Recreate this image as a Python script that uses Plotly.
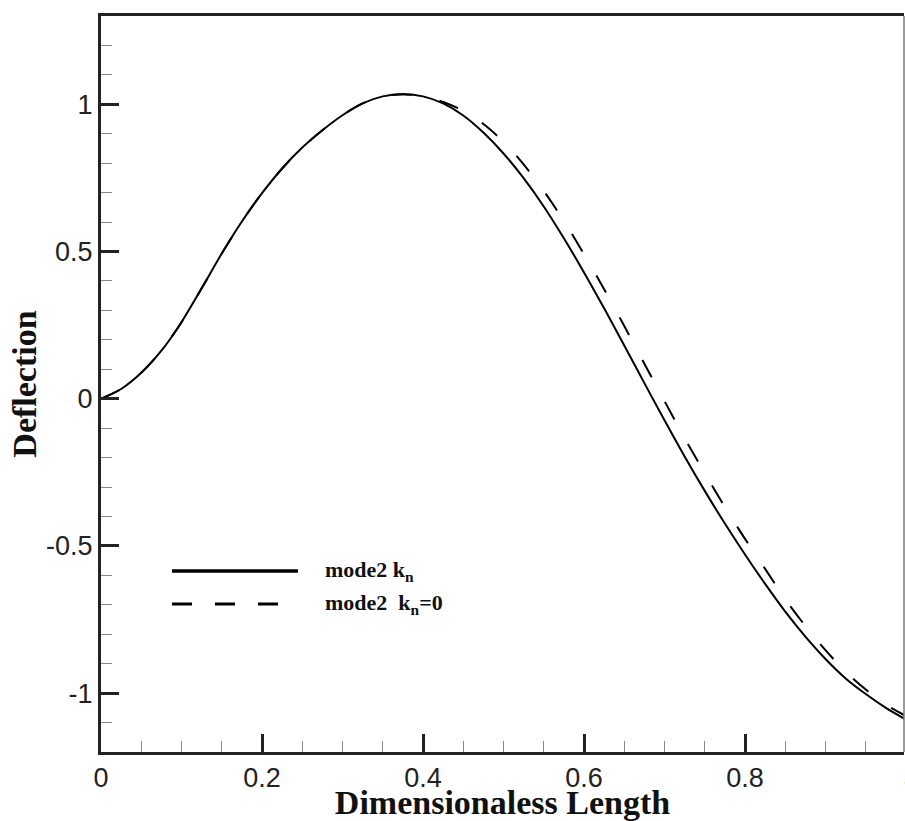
import plotly.graph_objects as go

# ---- data ----
x_vals = [0.0, 0.025, 0.05, 0.075, 0.10, 0.125, 0.15, 0.175, 0.20, 0.225,
          0.25, 0.275, 0.30, 0.325, 0.35, 0.375, 0.40, 0.425, 0.45, 0.475,
          0.50, 0.525, 0.55, 0.575, 0.60, 0.625, 0.65, 0.675, 0.70, 0.725,
          0.75, 0.775, 0.80, 0.825, 0.85, 0.875, 0.90, 0.925, 0.95, 0.975, 1.0]

mode2_kn = [0.000, 0.033, 0.088, 0.163, 0.260, 0.375, 0.493, 0.602, 0.698, 0.782,
            0.853, 0.912, 0.963, 1.003, 1.027, 1.034, 1.027, 1.003, 0.962, 0.904,
            0.833, 0.749, 0.653, 0.545, 0.429, 0.307, 0.181, 0.053, -0.073, -0.196,
            -0.313, -0.424, -0.529, -0.629, -0.723, -0.808, -0.884, -0.950, -1.003, -1.050, -1.090]

mode2_kn0 = [0.000, 0.033, 0.088, 0.163, 0.260, 0.375, 0.493, 0.602, 0.698, 0.782,
             0.853, 0.912, 0.963, 1.003, 1.027, 1.034, 1.028, 1.008, 0.978, 0.933,
             0.873, 0.796, 0.706, 0.604, 0.491, 0.372, 0.247, 0.119, -0.008, -0.134,
             -0.253, -0.368, -0.476, -0.578, -0.681, -0.772, -0.854, -0.928, -0.988, -1.039, -1.078]

x_ticks = [0, 0.2, 0.4, 0.6, 0.8]
x_ticklabels = ["0", "0.2", "0.4", "0.6", "0.8"]
y_ticks = [-1, -0.5, 0, 0.5, 1]
y_ticklabels = ["-1", "-0.5", "0", "0.5", "1"]

legend_labels = ["mode2 k<sub>n</sub>", "mode2  k<sub>n</sub>=0"]

fig = go.Figure()
fig.add_trace(go.Scatter(x=x_vals, y=mode2_kn, mode="lines", name="mode2 kn",
                         line=dict(color="black", width=2, shape="spline", smoothing=0.8),
                         showlegend=False))
fig.add_trace(go.Scatter(x=x_vals, y=mode2_kn0, mode="lines", name="mode2 kn=0",
                         line=dict(color="black", width=2, dash="20px,28px", shape="spline", smoothing=0.8),
                         showlegend=False))

tickfont = dict(family="Liberation Sans, Arial, sans-serif", size=27, color="#222")
titlefont = dict(family="Liberation Serif, Times New Roman, serif", size=34, color="#111")

fig.update_layout(
    width=905, height=821,
    margin=dict(l=101, r=1, t=16, b=69, autoexpand=False),
    plot_bgcolor="white", paper_bgcolor="white",
    xaxis=dict(range=[0, 0.9975], tickmode="array", tickvals=x_ticks, ticktext=x_ticklabels,
               ticks="inside", ticklen=18, tickwidth=2.5, tickcolor="#222",
               minor=dict(ticks="inside", ticklen=11, tickwidth=1, tickcolor="#888", dtick=0.05),
               showline=True, linewidth=3, linecolor="#222", mirror=True,
               showgrid=False, zeroline=False, tickfont=tickfont, automargin=False,
               title=dict(text="<b>Dimensionaless Length</b>", font=titlefont, standoff=6)),
    yaxis=dict(range=[-1.2, 1.3], tickmode="array", tickvals=y_ticks, ticktext=y_ticklabels,
               ticks="inside", ticklen=18, tickwidth=2.5, tickcolor="#222",
               minor=dict(ticks="inside", ticklen=11, tickwidth=1, tickcolor="#888", dtick=0.1),
               showline=True, linewidth=3, linecolor="#222", mirror=False,
               showgrid=False, zeroline=False, tickfont=tickfont, automargin=False,
               title=dict(text="<b>Deflection</b>", font=titlefont, standoff=0)),
)

# right border (thin, grey)
fig.add_shape(type="line", xref="paper", yref="paper", x0=1, x1=1, y0=0, y1=1,
              line=dict(color="#777", width=1.5))

# custom legend
fig.add_shape(type="line", xref="paper", yref="paper", x0=0.0884, x1=0.2453,
              y0=0.2459, y1=0.2459, line=dict(color="black", width=3.5))
fig.add_shape(type="line", xref="paper", yref="paper", x0=0.0884, x1=0.2204,
              y0=0.2011, y1=0.2011, line=dict(color="black", width=3, dash="20px,23px"))
legfont = dict(family="Liberation Serif, Times New Roman, serif", size=22, color="#111")
fig.add_annotation(xref="paper", yref="paper", x=0.2765, y=0.2459, text="<b>" + legend_labels[0] + "</b>",
                   showarrow=False, xanchor="left", yanchor="middle", font=legfont)
fig.add_annotation(xref="paper", yref="paper", x=0.2765, y=0.2011, text="<b>" + legend_labels[1] + "</b>",
                   showarrow=False, xanchor="left", yanchor="middle", font=legfont)

# partially clipped "1" tick label at the right edge
fig.add_annotation(xref="paper", yref="paper", x=1.0, y=0, yshift=-6, text="1", showarrow=False,
                   xanchor="left", xshift=-3, yanchor="top", font=tickfont)

# remove the default page margin so the figure fills the 905x821 window exactly
fig.write_html("out.html", config={"displayModeBar": False},
               post_script="document.body.style.margin='0';document.body.style.overflow='hidden';")
